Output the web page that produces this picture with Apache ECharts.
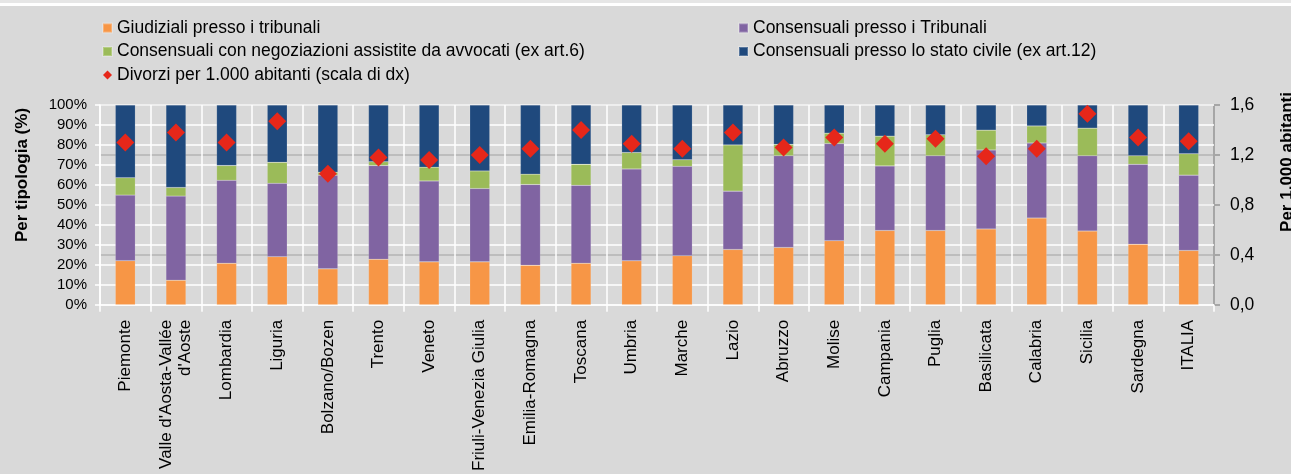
<!DOCTYPE html>
<html>
<head>
<meta charset="utf-8">
<script src="https://cdn.jsdelivr.net/npm/echarts@6/dist/echarts.min.js"></script>
<style>
html,body{margin:0;padding:0;background:#d9d9d9;}
#c{width:1291px;height:474px;}
</style>
</head>
<body>
<div id="c"></div>
<script>
const categories = ['Piemonte', "Valle d'Aosta-Vallée\nd'Aoste", 'Lombardia', 'Liguria', 'Bolzano/Bozen', 'Trento', 'Veneto', 'Friuli-Venezia Giulia', 'Emilia-Romagna', 'Toscana', 'Umbria', 'Marche', 'Lazio', 'Abruzzo', 'Molise', 'Campania', 'Puglia', 'Basilicata', 'Calabria', 'Sicilia', 'Sardegna', 'ITALIA'];
const giudiziali = [22.1, 12.3, 20.8, 24.1, 18.0, 22.8, 21.5, 21.5, 19.8, 20.8, 22.0, 24.6, 27.7, 28.7, 32.1, 37.2, 37.2, 38.0, 43.4, 36.9, 30.3, 27.2];
const consTribunali = [32.8, 42.1, 41.5, 36.7, 46.8, 46.9, 40.5, 36.7, 40.4, 39.0, 46.0, 44.7, 29.2, 45.9, 48.6, 32.3, 37.4, 39.5, 37.6, 37.7, 40.0, 37.7];
const consNegoziazioni = [8.7, 4.3, 7.4, 10.5, 1.6, 1.9, 6.9, 8.8, 5.2, 10.5, 8.2, 3.3, 23.1, 5.7, 5.2, 14.9, 10.5, 9.9, 8.5, 13.8, 4.3, 10.7];
const consStatoCivile = [36.4, 41.3, 30.3, 28.7, 33.6, 28.4, 31.1, 33.0, 34.6, 29.7, 23.8, 27.4, 20.0, 19.7, 14.1, 15.6, 14.9, 12.6, 10.5, 11.6, 25.4, 24.4];
const divorzi = [1.30, 1.38, 1.30, 1.47, 1.05, 1.18, 1.16, 1.20, 1.25, 1.40, 1.29, 1.25, 1.38, 1.26, 1.34, 1.29, 1.33, 1.19, 1.25, 1.53, 1.34, 1.31];
const leftTicks = ['0%','10%','20%','30%','40%','50%','60%','70%','80%','90%','100%'];

const names = ['Giudiziali presso i tribunali', 'Consensuali presso i Tribunali', 'Consensuali con negoziazioni assistite da avvocati (ex art.6)', 'Consensuali presso lo stato civile (ex art.12)', 'Divorzi per 1.000 abitanti (scala di dx)'];
const colors = ['#f79646', '#8064a2', '#9bbb59', '#1f497d', '#e6271a'];
const FONT = "'Liberation Sans', Arial, sans-serif";

const chart = echarts.init(document.getElementById('c'), null, {renderer: 'canvas'});
const barData = [giudiziali, consTribunali, consNegoziazioni, consStatoCivile];
const series = barData.map((d, i) => ({
  name: names[i], type: 'bar', stack: 'tot', data: d, barWidth: 20,
  itemStyle: {color: colors[i], borderColor: 'rgba(255,255,255,0.25)', borderWidth: 0.5},
  z: 2
}));
series.push({
  name: names[4], type: 'scatter', yAxisIndex: 1, data: divorzi,
  symbol: 'diamond', symbolSize: [18, 18], itemStyle: {color: colors[4], opacity: 1}, z: 5
});

chart.setOption({
  backgroundColor: '#d9d9d9',
  animation: false,
  textStyle: {fontFamily: FONT},
  legend: [
    {data: [names[0], names[2], {name: names[4], icon: 'diamond'}], orient: 'vertical', left: 97, top: 13, itemWidth: 9, itemHeight: 9, itemGap: 3.5,
     textStyle: {fontFamily: FONT, fontSize: 17.5, color: '#000', lineHeight: 20}, icon: 'rect'},
    {data: [names[1], names[3]], orient: 'vertical', left: 733, top: 13, itemWidth: 9, itemHeight: 9, itemGap: 3.5,
     textStyle: {fontFamily: FONT, fontSize: 17.5, color: '#000', lineHeight: 20}, icon: 'rect'}
  ],
  grid: {left: 100, right: 77, top: 105, bottom: 165, containLabel: false},
  xAxis: {
    type: 'category', data: categories,
    axisLine: {lineStyle: {color: '#ffffff', width: 1.5}},
    axisTick: {show: true, length: 7, lineStyle: {color: '#ffffff', width: 1.5}},
    splitLine: {show: true, lineStyle: {color: '#ffffff', width: 1.5}},
    axisLabel: {rotate: 90, margin: 15, fontFamily: FONT, fontSize: 17, color: '#000', interval: 0, align: 'right', verticalAlign: 'middle', lineHeight: 19}
  },
  yAxis: [
    {type: 'value', min: 0, max: 100, interval: 10, z: 1,
     axisLine: {show: true, lineStyle: {color: '#ffffff', width: 1.5}},
     axisTick: {show: true, length: 5, lineStyle: {color: '#ffffff', width: 1.5}},
     splitLine: {show: true, lineStyle: {color: '#ffffff', width: 1.5}},
     axisLabel: {margin: 13, fontFamily: FONT, fontSize: 15, color: '#000', formatter: v => leftTicks[Math.round(v / 10)]}
    },
    {type: 'value', min: 0, max: 1.6, interval: 0.4, position: 'right', z: 0,
     axisLine: {show: true, lineStyle: {color: '#a6a6a6', width: 2}},
     axisTick: {show: true, length: 6, lineStyle: {color: '#a6a6a6', width: 2}},
     splitLine: {show: true, lineStyle: {color: '#bdbdbd', width: 2}},
     axisLabel: {margin: 16, fontFamily: FONT, fontSize: 17.5, color: '#000', formatter: v => v.toFixed(1).replace('.', ',')}
    }
  ],
  graphic: [
    {type: 'rect', left: 0, top: 0, shape: {width: 1291, height: 3}, style: {fill: '#e6e6e6'}, silent: true},
    {type: 'rect', left: 0, top: 3, shape: {width: 1291, height: 3}, style: {fill: '#ffffff'}, silent: true},
    {type: 'text', x: 22, y: 175, rotation: Math.PI / 2,
     style: {text: 'Per tipologia (%)', fontFamily: FONT, fontSize: 17, fontWeight: 'bold', fill: '#000', textAlign: 'center', textVerticalAlign: 'middle'}},
    {type: 'text', x: 1287, y: 162, rotation: Math.PI / 2,
     style: {text: 'Per 1,000 abitanti', fontFamily: FONT, fontSize: 17, fontWeight: 'bold', fill: '#000', textAlign: 'center', textVerticalAlign: 'middle'}}
  ],
  series: series
});
</script>
</body>
</html>
